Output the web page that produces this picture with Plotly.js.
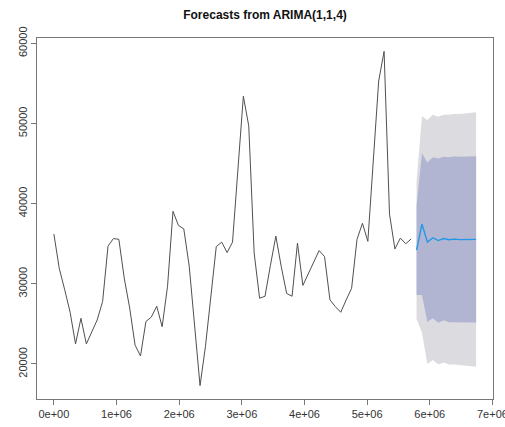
<!DOCTYPE html>
<html>
<head>
<meta charset="utf-8">
<script src="https://cdn.plot.ly/plotly-3.0.1.min.js"></script>
<style>
  html, body { margin: 0; padding: 0; background: #fff; }
  #chart { width: 505px; height: 427px; }
</style>
</head>
<body>
<div id="chart"></div>
<script>
// Daily series, time index in seconds (one step = 86400 s)
const step = 86400;

// Observed values, index 0..66
const observed = [
  36200, 31900, 29250, 26450, 22500, 25700, 22500, 24000, 25500, 27800,
  34700, 35650, 35550, 30700, 27000, 22350, 21000, 25300, 25850, 27200,
  24650, 29700, 39050, 37300, 36850, 32200, 24900, 17300, 22200, 28400,
  34650, 35200, 33900, 35200, 44300, 53400, 49700, 33850, 28200, 28450,
  32300, 35950, 32150, 28800, 28450, 35080, 29800, 31200, 32600, 34150,
  33400, 28000, 27150, 26450, 28000, 29450, 35550, 37550, 35300, 45400,
  55300, 59000, 38700, 34350, 35700, 35000, 35600
];

// 12-step forecast: point forecast and 80% / 95% prediction limits
const fcMean = [34200, 37450, 35200, 35750, 35400, 35650, 35500, 35580, 35520, 35550, 35540, 35545];
const fcHi80 = [39800, 46300, 45150, 45800, 45650, 45850, 45800, 45880, 45860, 45900, 45900, 45920];
const fcLo80 = [28600, 28600, 25250, 25700, 25150, 25450, 25200, 25280, 25180, 25200, 25180, 25170];
const fcHi95 = [42800, 50900, 50450, 51100, 50850, 51100, 51100, 51200, 51200, 51300, 51350, 51420];
const fcLo95 = [25650, 23900, 20000, 20500, 19950, 20200, 19950, 19950, 19850, 19800, 19750, 19670];

// Axis ticks
const xTickVals = [0, 1e6, 2e6, 3e6, 4e6, 5e6, 6e6, 7e6];
const xTickText = ['0e+00', '1e+06', '2e+06', '3e+06', '4e+06', '5e+06', '6e+06', '7e+06'];
const yTickVals = [20000, 30000, 40000, 50000, 60000];
const yTickText = ['20000', '30000', '40000', '50000', '60000'];

const obsX = observed.map((_, i) => i * step);
const fcX = fcMean.map((_, i) => (observed.length + i) * step);

function band(lo, hi) {
  return {
    x: fcX.concat(fcX.slice().reverse()),
    y: hi.concat(lo.slice().reverse())
  };
}
const b95 = band(fcLo95, fcHi95);
const b80 = band(fcLo80, fcHi80);

// Axis limits extended 4% beyond the data, as base graphics does
function padRange(vals) {
  const lo = Math.min(...vals), hi = Math.max(...vals);
  const d = (hi - lo) * 0.04;
  return [lo - d, hi + d];
}
const xRange = padRange(obsX.concat(fcX));
const yRange = padRange(observed.concat(fcLo95, fcHi95, fcMean));

const traces = [
  { x: b95.x, y: b95.y, type: 'scatter', mode: 'lines', fill: 'toself',
    fillcolor: '#dbdbe0', line: { width: 0 }, hoverinfo: 'skip' },
  { x: b80.x, y: b80.y, type: 'scatter', mode: 'lines', fill: 'toself',
    fillcolor: '#b1b5d1', line: { width: 0 }, hoverinfo: 'skip' },
  { x: obsX, y: observed, type: 'scatter', mode: 'lines',
    line: { color: '#505050', width: 1 } },
  { x: fcX, y: fcMean, type: 'scatter', mode: 'lines',
    line: { color: '#2297e6', width: 1.4 } }
];

const axisFont = { family: 'Liberation Sans, Arial, sans-serif', size: 11, color: '#333' };

const layout = {
  width: 505, height: 427,
  margin: { l: 37, r: 12, t: 38, b: 28, pad: 0 },
  paper_bgcolor: '#fff', plot_bgcolor: '#fff',
  showlegend: false,
  font: axisFont,
  title: {
    text: '<b>Forecasts from ARIMA(1,1,4)</b>',
    font: { family: 'Liberation Sans, Arial, sans-serif', size: 12, color: '#111' },
    xref: 'paper', x: 0.5, xanchor: 'center',
    yref: 'container', y: 1 - 15 / 427, yanchor: 'middle'
  },
  xaxis: {
    range: xRange, showgrid: false, zeroline: false,
    showline: true, mirror: true, linecolor: '#777', linewidth: 1,
    ticks: 'outside', ticklen: 5, tickcolor: '#777', tickwidth: 1,
    tickmode: 'array', tickvals: xTickVals, ticktext: xTickText,
    ticklabeloverflow: 'allow', tickfont: axisFont
  },
  yaxis: {
    range: yRange, showgrid: false, zeroline: false,
    showline: true, mirror: true, linecolor: '#777', linewidth: 1,
    ticks: 'outside', ticklen: 5, tickcolor: '#777', tickwidth: 1,
    tickmode: 'array', tickvals: yTickVals, ticktext: yTickText,
    ticklabeloverflow: 'allow', tickangle: -90, tickfont: axisFont
  }
};

Plotly.newPlot('chart', traces, layout, { displayModeBar: false, staticPlot: true });
</script>
</body>
</html>
